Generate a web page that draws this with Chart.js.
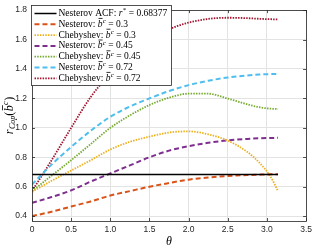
<!DOCTYPE html>
<html>
<head>
<meta charset="utf-8">
<script src="https://cdn.jsdelivr.net/npm/chart.js@4.4.1/dist/chart.umd.min.js"></script>
<style>
  html, body { margin: 0; padding: 0; background: #fff; }
  #wrap { width: 316px; height: 250px; }
</style>
</head>
<body>
<div id="wrap"><canvas id="rateChart" width="316" height="250"></canvas></div>
<script>
// theta grid shared by all curves
const theta = [0, 0.25, 0.5, 0.75, 1, 1.25, 1.5, 1.75, 2, 2.25, 2.5, 2.75, 2.9, 3.05, 3.1416];

const rStar = 0.68377;
const rStarTheta = [0, 3.1416];
const nesterov03  = [0.40, 0.43, 0.465, 0.50, 0.54, 0.57, 0.60, 0.625, 0.648, 0.663, 0.673, 0.679, 0.682, 0.684, 0.684];
const chebyshev03 = [0.565, 0.64, 0.71, 0.78, 0.853, 0.905, 0.94, 0.968, 0.976, 0.956, 0.913, 0.836, 0.765, 0.665, 0.57];
const nesterov045  = [0.49, 0.53, 0.575, 0.635, 0.69, 0.745, 0.80, 0.845, 0.875, 0.898, 0.915, 0.925, 0.929, 0.931, 0.932];
const chebyshev045 = [0.57, 0.675, 0.78, 0.89, 1.0, 1.085, 1.155, 1.205, 1.232, 1.232, 1.199, 1.16, 1.14, 1.13, 1.128];
const nesterov072  = [0.615, 0.75, 0.87, 0.98, 1.075, 1.145, 1.20, 1.25, 1.29, 1.32, 1.342, 1.356, 1.362, 1.365, 1.366];
const chebyshev072 = [0.57, 0.78, 1.0, 1.21, 1.37, 1.50, 1.60, 1.67, 1.715, 1.74, 1.748, 1.745, 1.741, 1.738, 1.737];

const xTicks = [0, 0.5, 1, 1.5, 2, 2.5, 3, 3.5];
const yTicks = [0.4, 0.6, 0.8, 1, 1.2, 1.4, 1.6, 1.8];

// legend text pieces: name, symbol (r or b), value
const legendNames = ['Nesterov ACF', 'Nesterov', 'Chebyshev', 'Nesterov', 'Chebyshev', 'Nesterov', 'Chebyshev'];
const legendSyms  = ['r', 'b', 'b', 'b', 'b', 'b', 'b'];
const legendVals  = ['0.68377', '0.3', '0.3', '0.45', '0.45', '0.72', '0.72'];

const AXIS = '#262626';
const SERIF = '"Liberation Serif", "DejaVu Serif", serif';

function pts(xs, ys) {
    return xs.map((t, i) => ({ x: t, y: ys[i] }));
}

function series(label, xs, ys, color, dash, width) {
    return {
        label: label,
        data: pts(xs, ys),
        borderColor: color,
        backgroundColor: color,
        borderDash: dash,
        borderWidth: width,
        pointRadius: 0,
        fill: false,
        cubicInterpolationMode: 'monotone'
    };
}

// draws a run of text pieces, returns total width
function drawPieces(ctx, pieces, x, y, doDraw) {
    let cx = x;
    pieces.forEach(p => {
        ctx.font = p.font;
        const w = ctx.measureText(p.t).width;
        if (doDraw) {
            ctx.fillText(p.t, cx, y + (p.dy || 0));
            if (p.bar) {
                ctx.save();
                ctx.lineWidth = 0.8;
                ctx.beginPath();
                ctx.moveTo(cx + w * 0.15, y - p.bar);
                ctx.lineTo(cx + w * 1.0, y - p.bar);
                ctx.strokeStyle = ctx.fillStyle;
                ctx.stroke();
                ctx.restore();
            }
        }
        cx += w + (p.gap || 0);
    });
    return cx - x;
}

function symbolPieces(sym, size) {
    const it = `italic ${size}px ${SERIF}`;
    const sup = `${Math.round(size * 0.7)}px ${SERIF}`;
    const supIt = `italic ${Math.round(size * 0.7)}px ${SERIF}`;
    if (sym === 'r') {
        return [{ t: 'r', font: it, gap: 0.5 }, { t: '*', font: sup, dy: -size * 0.3 }];
    }
    return [{ t: 'b', font: it, bar: size * 0.62, gap: 0.3 }, { t: 'c', font: supIt, dy: -size * 0.32 }];
}

const boxLegend = {
    id: 'boxLegend',
    afterDraw(chart) {
        const ctx = chart.ctx;
        const area = chart.chartArea;
        ctx.save();

        // inward ticks and axes box
        ctx.strokeStyle = AXIS;
        ctx.lineWidth = 0.8;
        const xs = chart.scales.x, ys = chart.scales.y;
        ctx.beginPath();
        xTicks.forEach(v => {
            const px = Math.round(xs.getPixelForValue(v)) + 0.5;
            ctx.moveTo(px, area.bottom); ctx.lineTo(px, area.bottom - 3);
            ctx.moveTo(px, area.top); ctx.lineTo(px, area.top + 3);
        });
        yTicks.forEach(v => {
            const py = Math.round(ys.getPixelForValue(v)) + 0.5;
            ctx.moveTo(area.left, py); ctx.lineTo(area.left + 3, py);
            ctx.moveTo(area.right, py); ctx.lineTo(area.right - 3, py);
        });
        ctx.stroke();
        ctx.strokeRect(Math.round(area.left) + 0.5, Math.round(area.top) + 0.5,
            Math.round(area.right - area.left), Math.round(area.bottom - area.top));

        // legend box
        const bx = 31.5, by = 5.5, bw = 140, bh = 80;
        ctx.fillStyle = '#fff';
        ctx.fillRect(bx, by, bw, bh);
        ctx.strokeStyle = AXIS;
        ctx.lineWidth = 0.8;
        ctx.strokeRect(bx, by, bw, bh);

        ctx.textBaseline = 'middle';
        ctx.textAlign = 'left';
        chart.data.datasets.forEach((ds, i) => {
            const y = by + 8 + i * 10.8;
            ctx.save();
            ctx.setLineDash(ds.borderDash || []);
            ctx.strokeStyle = ds.borderColor;
            ctx.lineWidth = ds.borderWidth;
            ctx.beginPath();
            ctx.moveTo(bx + 3, y);
            ctx.lineTo(bx + 25, y);
            ctx.stroke();
            ctx.restore();

            ctx.fillStyle = '#000';
            const size = 9.5;
            const plain = `${size}px ${SERIF}`;
            const pieces = [{ t: legendNames[i] + ': ', font: plain }]
                .concat(symbolPieces(legendSyms[i], size))
                .concat([{ t: ' = ' + legendVals[i], font: plain }]);
            drawPieces(ctx, pieces, bx + 27, y, true);
        });

        // axis titles
        ctx.fillStyle = '#000';
        ctx.font = `italic 12px ${SERIF}`;
        ctx.textAlign = 'center';
        ctx.fillText('\u03b8', (area.left + area.right) / 2, 242);

        ctx.textAlign = 'left';
        const yPieces = [
            { t: 'r', font: `italic 12px ${SERIF}`, gap: 0.5 },
            { t: 'Cop', font: `italic 8px ${SERIF}`, dy: 3 },
            { t: '(', font: `12px ${SERIF}`, gap: 0.5 },
            { t: 'b', font: `italic 12px ${SERIF}`, bar: 7.5, gap: 0.3 },
            { t: 'c', font: `italic 8px ${SERIF}`, dy: -4, gap: 0.5 },
            { t: ')', font: `12px ${SERIF}` }
        ];
        ctx.translate(10, (area.top + area.bottom) / 2);
        ctx.rotate(-Math.PI / 2);
        const tw = drawPieces(ctx, yPieces, 0, 0, false);
        drawPieces(ctx, yPieces, -tw / 2, 0, true);

        ctx.restore();
    }
};

const ctx = document.getElementById('rateChart').getContext('2d');
new Chart(ctx, {
    type: 'line',
    data: {
        datasets: [
            series('Nesterov ACF: r* = 0.68377', rStarTheta, [rStar, rStar], '#000000', [], 1.5),
            series('Nesterov: b\u0304\u1d9c = 0.3', theta, nesterov03, '#D95319', [5, 3], 2),
            series('Chebyshev: b\u0304\u1d9c = 0.3', theta, chebyshev03, '#EDB120', [1.5, 1.2], 1.8),
            series('Nesterov: b\u0304\u1d9c = 0.45', theta, nesterov045, '#7E2F8E', [5, 3], 2),
            series('Chebyshev: b\u0304\u1d9c = 0.45', theta, chebyshev045, '#77AC30', [1.5, 1.2], 1.8),
            series('Nesterov: b\u0304\u1d9c = 0.72', theta, nesterov072, '#4DBEEE', [5, 3], 2),
            series('Chebyshev: b\u0304\u1d9c = 0.72', theta, chebyshev072, '#A2142F', [1.5, 1.2], 1.8)
        ]
    },
    options: {
        responsive: false,
        animation: false,
        devicePixelRatio: 1,
        layout: { padding: { top: 5, right: 7, left: 0, bottom: 0 } },
        plugins: {
            legend: { display: false },
            tooltip: { enabled: false }
        },
        scales: {
            x: {
                type: 'linear',
                min: 0,
                max: 3.5,
                afterBuildTicks: s => { s.ticks = xTicks.map(v => ({ value: v })); },
                afterFit: s => { s.height = 29; },
                grid: { color: '#e3e3e3', drawTicks: false },
                border: { display: false },
                ticks: { padding: 4, color: AXIS, font: { family: 'Liberation Sans', size: 8.5 } }
            },
            y: {
                min: 0.367,
                max: 1.8,
                afterBuildTicks: s => { s.ticks = yTicks.map(v => ({ value: v })); },
                afterFit: s => { s.width = 32; },
                grid: { color: '#e3e3e3', drawTicks: false },
                border: { display: false },
                ticks: { padding: 5, color: AXIS, font: { family: 'Liberation Sans', size: 8.5 } }
            }
        }
    },
    plugins: [boxLegend]
});
</script>
</body>
</html>
